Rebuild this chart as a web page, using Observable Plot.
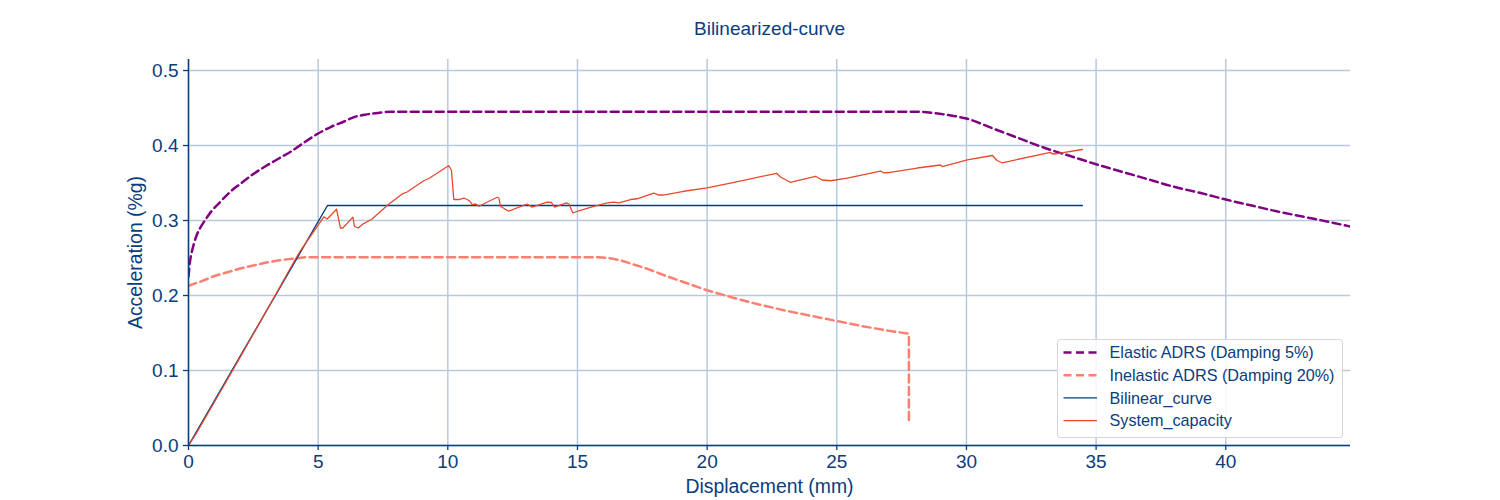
<!DOCTYPE html>
<html>
<head>
<meta charset="utf-8">
<script src="https://cdn.jsdelivr.net/npm/d3@7"></script>
<script src="https://cdn.jsdelivr.net/npm/@observablehq/plot@0.6"></script>
<style>
  body { margin: 0; background: #fff; font-family: "Liberation Sans", Arial, sans-serif; }
  #wrap { position: relative; width: 1500px; height: 500px; }
  #legend { position: absolute; left: 1057px; top: 339px; }
</style>
</head>
<body>
<div id="wrap"><div id="chart"></div><div id="legend"></div></div>
<script>
// ---- data ----
const xTicks = [0, 5, 10, 15, 20, 25, 30, 35, 40];
const yTicks = [0, 0.1, 0.2, 0.3, 0.4, 0.5];

const elasticD = [0, 0.05, 0.12, 0.2, 0.3, 0.45, 0.65, 0.9, 1.2, 1.6, 2.0, 2.5, 3.0, 3.5, 4.0, 4.5, 5.0, 5.5, 6.0, 6.4, 6.8, 7.2, 7.8, 28.2, 28.8, 29.4, 30.0, 31, 32, 33, 34, 35, 36, 37, 38, 39, 40, 41, 42, 43, 44, 44.8];
const elasticA = [0.225, 0.243, 0.257, 0.268, 0.279, 0.290, 0.301, 0.313, 0.324, 0.338, 0.349, 0.362, 0.373, 0.383, 0.393, 0.405, 0.416, 0.425, 0.432, 0.438, 0.441, 0.443, 0.445, 0.445, 0.443, 0.440, 0.436, 0.423, 0.41, 0.397, 0.386, 0.375, 0.365, 0.355, 0.345, 0.337, 0.328, 0.32, 0.312, 0.305, 0.298, 0.292];

const inelasticD = [0, 0.5, 1, 1.5, 2, 2.5, 3, 3.5, 4, 4.5, 15.8, 16.3, 16.7, 17.2, 17.7, 18.5, 19, 20, 21, 22, 23, 24, 25, 26, 27, 27.78, 27.78];
const inelasticA = [0.213, 0.219, 0.226, 0.231, 0.236, 0.240, 0.244, 0.247, 0.249, 0.251, 0.251, 0.2495, 0.2465, 0.241, 0.2355, 0.225, 0.219, 0.207, 0.197, 0.188, 0.180, 0.173, 0.166, 0.159, 0.153, 0.149, 0.030];

const bilinearD = [0, 5.36, 34.47];
const bilinearA = [0, 0.32, 0.32];

const capacityD = [0, 0.3, 2, 3.42, 4.13, 4.32, 5.22, 5.35, 5.71, 5.86, 5.95, 6.34, 6.40, 6.54, 6.74, 7.08, 7.66, 8.24, 8.43, 9.07, 9.27, 9.98, 10.04, 10.14, 10.23, 10.43, 10.62, 10.85, 10.94, 11.07, 11.2, 11.9, 11.97, 12.03, 12.19, 12.35, 13.06, 13.25, 13.83, 14.0, 14.11, 14.58, 14.67, 14.82, 15.05, 15.63, 16.15, 16.4, 16.6, 17.05, 17.3, 17.94, 18.14, 18.3, 19.1, 20.0, 20.9, 21.67, 22.68, 22.83, 23.2, 24.18, 24.43, 24.76, 25.4, 26.69, 26.8, 27.0, 28.1, 29.0, 29.07, 30.03, 31.0, 31.18, 31.38, 33.24, 33.3, 33.44, 34.47];
const capacityA = [0, 0.016, 0.118, 0.205, 0.249, 0.26, 0.305, 0.302, 0.315, 0.29, 0.29, 0.3045, 0.292, 0.29, 0.2956, 0.302, 0.32, 0.3355, 0.338, 0.353, 0.356, 0.372, 0.373, 0.367, 0.328, 0.328, 0.33, 0.326, 0.3213, 0.322, 0.319, 0.331, 0.33, 0.319, 0.3156, 0.3124, 0.322, 0.3178, 0.3244, 0.324, 0.318, 0.3236, 0.322, 0.31, 0.313, 0.3187, 0.3236, 0.3244, 0.3236, 0.328, 0.329, 0.3364, 0.334, 0.334, 0.339, 0.3436, 0.35, 0.3556, 0.363, 0.358, 0.351, 0.359, 0.354, 0.353, 0.3564, 0.366, 0.3636, 0.364, 0.37, 0.374, 0.372, 0.381, 0.3867, 0.38, 0.377, 0.391, 0.389, 0.389, 0.3947];

const seriesNames = ["Elastic ADRS (Damping 5%)", "Inelastic ADRS (Damping 20%)", "Bilinear_curve", "System_capacity"];

// ---- styles ----
const navy = "#0a3d7e";
const gridColor = "#b9c9dd";
const cElastic = "#800080", cInelastic = "#fa8072", cBilinear = "#003f7f", cCapacity = "#e64a2e";
const font = "'Liberation Sans', Arial, sans-serif";

const toRows = (xs, ys) => xs.map((x, i) => ({x, y: ys[i]}));
const elastic = toRows(elasticD, elasticA);
const inelastic = toRows(inelasticD, inelasticA);
const bilinear = toRows(bilinearD, bilinearA);
const capacity = toRows(capacityD, capacityA);

const chart = Plot.plot({
  width: 1500, height: 500,
  marginLeft: 188, marginRight: 150, marginTop: 59, marginBottom: 55,
  style: {fontFamily: font, color: navy, background: "white", overflow: "visible"},
  x: {domain: [0, 44.81]},
  y: {domain: [0, 0.5147]},
  marks: [
    Plot.gridX(xTicks, {stroke: gridColor, strokeOpacity: 1, strokeWidth: 1.5}),
    Plot.gridY(yTicks, {stroke: gridColor, strokeOpacity: 1, strokeWidth: 1.5}),
    Plot.axisX(xTicks, {tickSize: 5, tickPadding: 4, fontSize: 19, label: null, color: navy, strokeWidth: 1.3, tickFormat: d => String(d)}),
    Plot.axisY(yTicks, {tickSize: 5, tickPadding: 5, fontSize: 19, label: null, color: navy, strokeWidth: 1.3, tickFormat: d3.format(".1f")}),
    Plot.line(elastic, {x: "x", y: "y", stroke: cElastic, strokeWidth: 2.5, strokeDasharray: "8,4.5", curve: "monotone-x", clip: true}),
    Plot.line(inelastic, {x: "x", y: "y", stroke: cInelastic, strokeWidth: 2.5, strokeDasharray: "8,4.5", clip: true}),
    Plot.line(bilinear, {x: "x", y: "y", stroke: cBilinear, strokeWidth: 1.4, clip: true}),
    Plot.line(capacity, {x: "x", y: "y", stroke: cCapacity, strokeWidth: 1.3, clip: true}),
    Plot.ruleX([0], {stroke: navy, strokeWidth: 1.5}),
    Plot.ruleY([0], {stroke: navy, strokeWidth: 1.5}),
    Plot.text(["Bilinearized-curve"], {frameAnchor: "top", lineAnchor: "middle", dy: -30.5, fontSize: 19, fill: navy}),
    Plot.text(["Displacement (mm)"], {frameAnchor: "bottom", lineAnchor: "middle", dy: 41.5, fontSize: 19.4, fill: navy}),
    Plot.text(["Acceleration (%g)"], {frameAnchor: "left", lineAnchor: "middle", textAnchor: "middle", dx: -53, rotate: -90, fontSize: 19.4, fill: navy})
  ]
});
document.getElementById("chart").appendChild(chart);

// ---- legend ----
const legendItems = [
  {name: seriesNames[0], color: cElastic, dash: "8,4.5", w: 2.5},
  {name: seriesNames[1], color: cInelastic, dash: "8,4.5", w: 2.5},
  {name: seriesNames[2], color: cBilinear, dash: null, w: 1.4},
  {name: seriesNames[3], color: cCapacity, dash: null, w: 1.3}
];
const lw = 285, lh = 98;
const svg = d3.select("#legend").append("svg").attr("width", lw + 2).attr("height", lh + 2);
svg.append("rect").attr("x", 0.5).attr("y", 0.5).attr("width", lw).attr("height", lh)
  .attr("rx", 3).attr("fill", "rgba(255,255,255,0.85)").attr("stroke", "#d6d6d6");
legendItems.forEach((it, i) => {
  const cy = 13.5 + i * 22.7;
  const ln = svg.append("line").attr("x1", 6.5).attr("x2", 40).attr("y1", cy).attr("y2", cy)
    .attr("stroke", it.color).attr("stroke-width", it.w);
  if (it.dash) ln.attr("stroke-dasharray", it.dash);
  svg.append("text").attr("x", 52.5).attr("y", cy).attr("dy", "0.35em")
    .attr("font-size", 16.2).attr("fill", navy)
    .attr("font-family", font).text(it.name);
});
</script>
</body>
</html>
